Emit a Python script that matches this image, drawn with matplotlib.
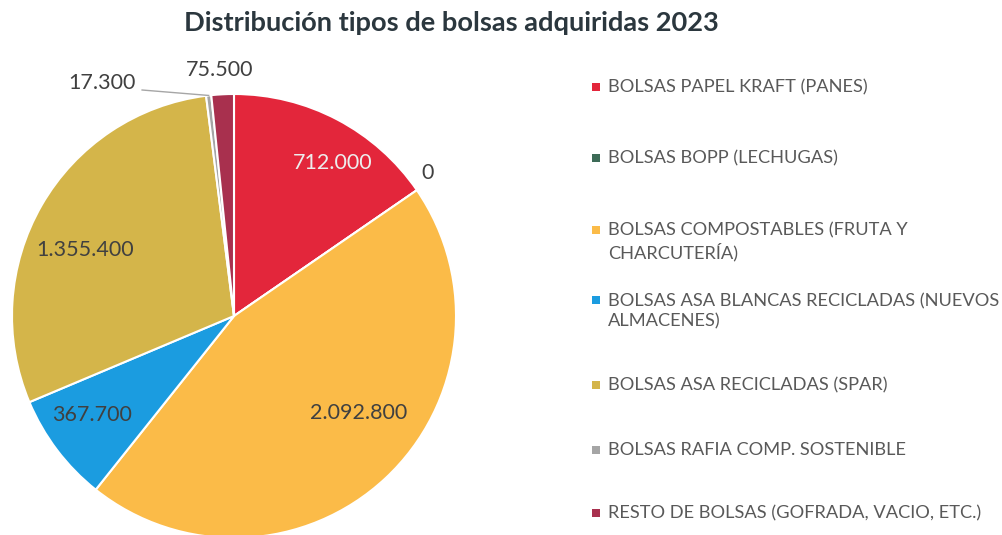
import matplotlib
matplotlib.use('Agg')
import matplotlib.pyplot as plt
from matplotlib.patches import Rectangle
import numpy as np

# Bag purchases 2023
categories = [
    'BOLSAS PAPEL KRAFT (PANES)',
    'BOLSAS BOPP (LECHUGAS)',
    'BOLSAS COMPOSTABLES (FRUTA Y\nCHARCUTERÍA)',
    'BOLSAS ASA BLANCAS RECICLADAS (NUEVOS\nALMACENES)',
    'BOLSAS ASA RECICLADAS (SPAR)',
    'BOLSAS RAFIA COMP. SOSTENIBLE',
    'RESTO DE BOLSAS (GOFRADA, VACIO, ETC.)',
]
bags = [712000, 0, 2092800, 367700, 1355400, 17300, 75500]
colors = ['#E3263B', '#3D6B57', '#FBBB48', '#1B9CE0', '#D4B54A', '#A5A5A5', '#A8304E']

# label placement (pie units) and legend rows (pixels from top)
label_pos = [(0.446, 0.689), (0.874, 0.644), (0.563, -0.437), (-0.640, -0.446),
             (-0.671, 0.297), (-0.595, 1.05), (-0.063, 1.108)]
label_col = ['#EDEDED', '#404040', '#404040', '#404040', '#404040', '#404040', '#404040']
legend_y = [87, 158, 230, 300, 385, 450, 513]

plt.rcParams['font.family'] = ['Lato', 'DejaVu Sans']


def fmt(v):
    return f'{v:,}'.replace(',', '.')


def fit_width(txt, target_px):
    # scale font so the text spans the width measured on the scan
    r = fig.canvas.get_renderer()
    w = txt.get_window_extent(renderer=r).width
    txt.set_fontsize(txt.get_fontsize() * target_px / w)
    return txt.get_fontsize()


W, H = 1003, 535
fig = plt.figure(figsize=(W / 100, H / 100), dpi=100)
fig.patch.set_facecolor('white')

cx, cy, R = 234, 316, 222
ax = fig.add_axes([(cx - R) / W, 1 - (cy + R) / H, 2 * R / W, 2 * R / H])
wedges, _ = ax.pie(bags, colors=colors, startangle=90, counterclock=False,
                   radius=1, wedgeprops=dict(edgecolor='white', linewidth=1.5))
ax.set_xlim(-1, 1)
ax.set_ylim(-1, 1)
ax.axis('off')

probe = ax.text(0, 0, fmt(bags[2]), fontsize=14)
lab_fs = fit_width(probe, 98)
probe.remove()
for v, (lx, ly), c in zip(bags, label_pos, label_col):
    ax.text(lx, ly, fmt(v), ha='center', va='center', fontsize=lab_fs, color=c)

# leader line for the thin grey slice
w = wedges[5]
mid = np.deg2rad((w.theta1 + w.theta2) / 2)
ax.plot([-0.414, np.cos(mid)], [1.018, np.sin(mid)], color='#A6A6A6',
        lw=1, clip_on=False)

title = fig.text(451 / W, 1 - 23 / H, 'Distribución tipos de bolsas adquiridas 2023',
                 ha='center', va='center', fontsize=17, fontweight='bold',
                 color='#2B373E')
fit_width(title, 538)

# legend: size so the longest line just fits before the right edge
probe = fig.text(0, 0, categories[0], fontsize=13)
fs1 = fit_width(probe, 262)
probe.set_text(categories[3].split('\n')[0])
probe.set_fontsize(13)
fs2 = fit_width(probe, 390)
probe.remove()
leg_fs = min(fs1, fs2)
for lab, c, ly in zip(categories, colors, legend_y):
    n = lab.count('\n') + 1
    fig.patches.append(Rectangle((592 / W, 1 - (ly + 4) / H), 8 / W, 8 / H,
                                 transform=fig.transFigure, color=c, lw=0))
    yc = ly + (n - 1) * 11.5
    fig.text(608 / W, 1 - yc / H, lab, ha='left', va='center', fontsize=leg_fs,
             color='#595959', linespacing=1.3)

fig.savefig('out.png', dpi=100, facecolor='white')
